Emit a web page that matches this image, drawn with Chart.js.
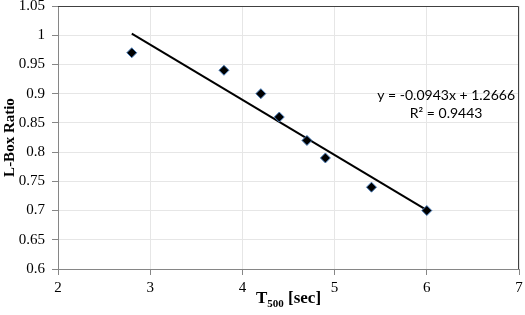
<!DOCTYPE html>
<html lang="en">
<head>
    <meta charset="UTF-8">
    <title>L-Box Ratio vs T500</title>
    <script src="https://cdn.jsdelivr.net/npm/chart.js"></script>
    <style>
        body {
            margin: 0;
            padding: 0;
            background: #ffffff;
        }
        #chart {
            display: block;
        }
    </style>
</head>
<body>
    <canvas id="chart" width="525" height="315"></canvas>

    <script>
        // measured points
        const t500 = [2.8, 3.8, 4.2, 4.4, 4.7, 4.9, 5.4, 6.0];
        const lboxRatio = [0.97, 0.94, 0.90, 0.86, 0.82, 0.79, 0.74, 0.70];

        // linear trendline ends
        const trendX = [2.8, 6.0];
        const trendY = [1.0026, 0.7008];

        const equationLines = ['y = -0.0943x + 1.2666', 'R² = 0.9443'];

        const xTicks = [2, 3, 4, 5, 6, 7];
        const yTicks = [0.6, 0.65, 0.7, 0.75, 0.8, 0.85, 0.9, 0.95, 1, 1.05];

        const serif = '"Liberation Serif", "Times New Roman", serif';

        // top/right frame, x title with subscript, equation label
        const extras = {
            id: 'extras',
            afterDraw(chart) {
                const ctx = chart.ctx;
                const a = chart.chartArea;
                const xs = chart.scales.x, ys = chart.scales.y;
                ctx.save();

                ctx.strokeStyle = '#404040';
                ctx.lineWidth = 1;
                ctx.beginPath();
                ctx.moveTo(a.left, a.top + 0.5);
                ctx.lineTo(a.right - 0.5, a.top + 0.5);
                ctx.lineTo(a.right - 0.5, a.bottom);
                ctx.stroke();

                // x axis title: T_500 [sec]
                ctx.fillStyle = '#000';
                ctx.textBaseline = 'alphabetic';
                const big = 'bold 17px ' + serif;
                const small = 'bold 11px ' + serif;
                ctx.font = big;
                const wT = ctx.measureText('T').width;
                const wRest = ctx.measureText(' [sec]').width;
                ctx.font = small;
                const wSub = ctx.measureText('500').width;
                let x = (a.left + a.right) / 2 - (wT + wSub + wRest) / 2;
                const base = 303;
                ctx.font = big;
                ctx.textAlign = 'left';
                ctx.fillText('T', x, base);
                x += wT;
                ctx.font = small;
                ctx.fillText('500', x, base + 4);
                x += wSub;
                ctx.font = big;
                ctx.fillText(' [sec]', x, base);

                // trendline equation
                ctx.font = '14px Lato, "Open Sans", sans-serif';
                ctx.textAlign = 'center';
                ctx.textBaseline = 'middle';
                const ex = xs.getPixelForValue(6.21);
                ctx.fillText(equationLines[0], ex, ys.getPixelForValue(0.897));
                ctx.fillText(equationLines[1], ex, ys.getPixelForValue(0.866));
                ctx.restore();
            }
        };

        new Chart(document.getElementById('chart'), {
            type: 'scatter',
            data: {
                datasets: [{
                    label: 'L-Box Ratio',
                    data: t500.map((v, i) => ({ x: v, y: lboxRatio[i] })),
                    pointStyle: 'rectRot',
                    pointRadius: 5,
                    backgroundColor: '#000000',
                    borderColor: '#4a7ebb',
                    borderWidth: 1,
                    order: 1
                }, {
                    label: 'Linear',
                    type: 'line',
                    data: trendX.map((v, i) => ({ x: v, y: trendY[i] })),
                    borderColor: '#000000',
                    borderWidth: 2,
                    pointRadius: 0,
                    fill: false,
                    order: 2
                }]
            },
            options: {
                responsive: false,
                animation: false,
                layout: { padding: { top: 5, right: 4, left: 0, bottom: 0 } },
                plugins: {
                    legend: { display: false },
                    tooltip: { enabled: false }
                },
                scales: {
                    x: {
                        type: 'linear',
                        min: xTicks[0],
                        max: xTicks[xTicks.length - 1],
                        afterBuildTicks: s => { s.ticks = xTicks.map(v => ({ value: v })); },
                        afterFit: s => { s.height = 46; s.paddingLeft = 0; s.paddingRight = 0; },
                        ticks: {
                            color: '#000',
                            font: { family: serif, size: 15 },
                            padding: 4,
                            maxRotation: 0
                        },
                        grid: { color: '#e6e6e6', tickColor: '#868686', tickLength: 6 },
                        border: { color: '#868686', width: 1 }
                    },
                    y: {
                        min: yTicks[0],
                        max: yTicks[yTicks.length - 1],
                        afterBuildTicks: s => { s.ticks = yTicks.map(v => ({ value: v })); },
                        afterFit: s => { s.width = 58; s.paddingTop = 0; s.paddingBottom = 0; },
                        ticks: {
                            color: '#000',
                            font: { family: serif, size: 15 },
                            padding: 7,
                            callback: v => String(+v.toFixed(2))
                        },
                        grid: { color: '#e6e6e6', tickColor: '#868686', tickLength: 6 },
                        border: { color: '#868686', width: 1 },
                        title: {
                            display: true,
                            text: 'L-Box Ratio',
                            color: '#000',
                            font: { family: serif, size: 15, weight: 'bold' },
                            padding: { top: 1, bottom: 0 }
                        }
                    }
                }
            },
            plugins: [extras]
        });
    </script>
</body>
</html>
